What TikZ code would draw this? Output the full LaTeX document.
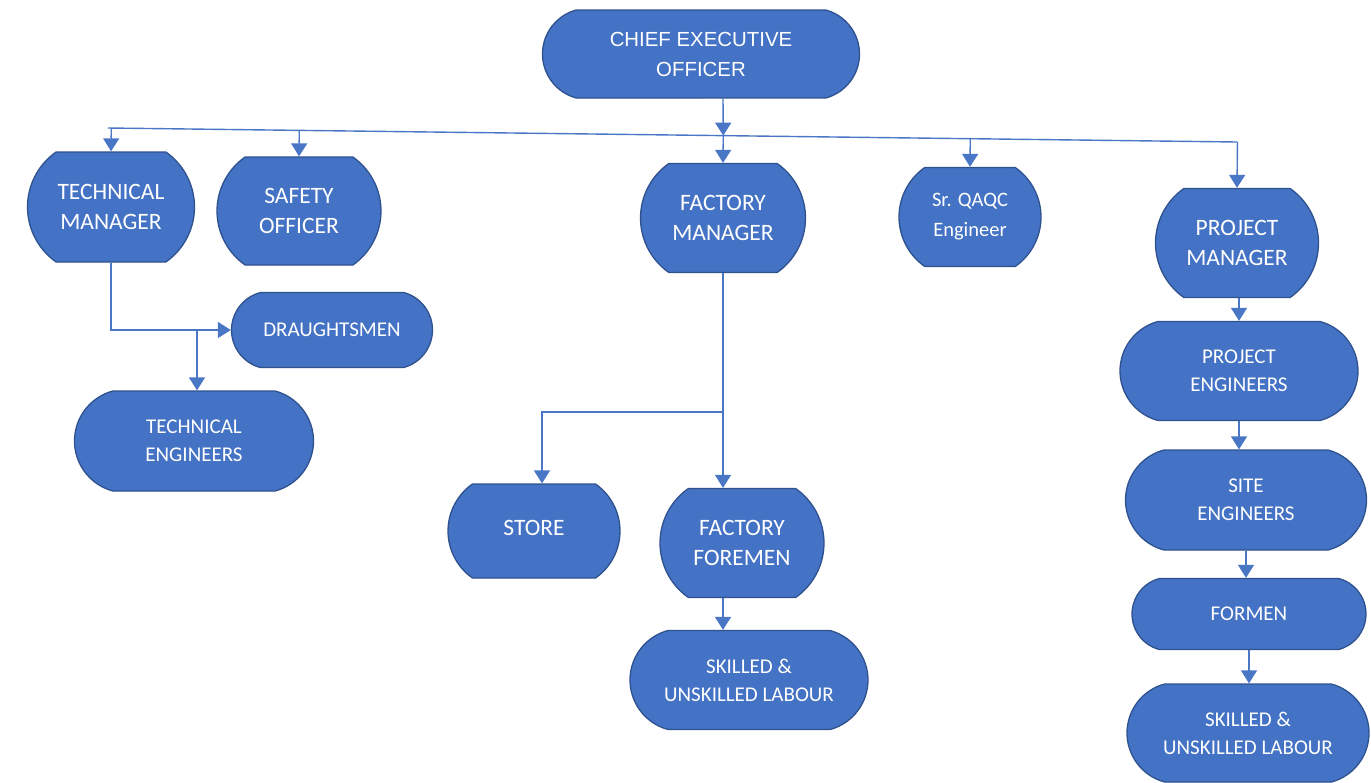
\documentclass[tikz,border=0pt]{standalone}
\usepackage{fontspec}
\setmainfont{Carlito}
\newfontfamily\ceofont{Liberation Sans}
\usetikzlibrary{shapes.misc,arrows.meta,calc}

\definecolor{boxblue}{HTML}{4472C4}
\definecolor{boxedge}{HTML}{2F528F}
\definecolor{lineblue}{HTML}{4A76C6}

\tikzset{
  unit/.style={rounded rectangle, rounded rectangle arc length=110, fill=boxblue, draw=boxedge,
    line width=1.3pt, text=white, align=center, inner sep=0pt},
  wideunit/.style={unit, rounded rectangle arc length=150},
  wire/.style={draw=lineblue, line width=1.4pt},
  link/.style={wire, -{Triangle[width=16pt,length=13pt]}},
  big/.style={font=\fontsize{23.5}{30}\selectfont},
  small/.style={font=\fontsize{21}{28}\selectfont}
}

\begin{document}
\begin{tikzpicture}[x=1pt,y=-1pt]
\useasboundingbox (0,0) rectangle (1371,782);

\node[wideunit,minimum width=317pt,minimum height=88pt,font=\ceofont\fontsize{20.4}{30}\selectfont] (CEO) at (701,54) {CHIEF EXECUTIVE\\OFFICER};

\node[unit,big,minimum width=167pt,minimum height=110pt] (TM) at (111,207) {TECHNICAL\\MANAGER};
\node[unit,big,minimum width=164pt,minimum height=108pt] (SO) at (299,211) {SAFETY\\OFFICER};
\node[unit,big,minimum width=165pt,minimum height=109pt] (FM) at (723,218) {FACTORY\\MANAGER};
\node[unit,font=\fontsize{20.5}{30}\selectfont,minimum width=142pt,minimum height=99pt] (QA) at (970,217) {Sr. QAQC\\Engineer};
\node[unit,big,minimum width=163pt,minimum height=109pt] (PM) at (1237,243) {PROJECT\\MANAGER};

\node[wideunit,small,minimum width=201pt,minimum height=75pt] (DR) at (332,330) {DRAUGHTSMEN};
\node[wideunit,small,minimum width=239pt,minimum height=100pt] (TE) at (194,441) {TECHNICAL\\ENGINEERS};

\node[unit,big,minimum width=172pt,minimum height=94pt] (ST) at (534,531) {\raisebox{7pt}{STORE}};
\node[unit,big,minimum width=164pt,minimum height=109pt] (FF) at (742,543) {FACTORY\\FOREMEN};
\node[wideunit,small,minimum width=238pt,minimum height=99pt] (SL1) at (749,680) {SKILLED \&\\UNSKILLED LABOUR};

\node[wideunit,small,minimum width=238pt,minimum height=99pt] (PE) at (1239,371) {PROJECT\\ENGINEERS};
\node[wideunit,small,minimum width=241pt,minimum height=100pt] (SE) at (1246,500) {SITE\\ENGINEERS};
\node[wideunit,small,minimum width=234pt,minimum height=71pt] (FO) at (1249,614) {FORMEN};
\node[wideunit,small,minimum width=242pt,minimum height=98pt] (SL2) at (1248,733) {SKILLED \&\\UNSKILLED LABOUR};

% bus under the CEO
\coordinate (busL) at (108,128);
\coordinate (busR) at (1237,142);
\draw[wire] (busL) -- (busR);
\draw[link] (CEO.south -| FM.north) -- ($(busL)!(FM.north)!(busR)$);
\foreach \n in {TM,SO,FM,QA,PM}
  \draw[link] ($(busL)!(\n.north)!(busR)$) -- (\n.north);

% technical side
\draw[link] (TM.south) |- (DR.west);
\draw[link] ([xshift=3]TE.north |- DR.west) -- ([xshift=3]TE.north);

% factory side
\coordinate (fj) at (723,412);
\draw[link] (FM.south) -- (FM.south |- FF.north);
\draw[link] (fj) -| ([xshift=8]ST.north);
\draw[link] (FM.south |- FF.south) -- (FM.south |- SL1.north);

% project side
\draw[link] (PE.north |- PM.south) -- (PE.north);
\draw[link] (PE.south) -- (PE.south |- SE.north);
\draw[link] (SE.south) -- (SE.south |- FO.north);
\draw[link] (FO.south) -- (FO.south |- SL2.north);
\end{tikzpicture}
\end{document}
